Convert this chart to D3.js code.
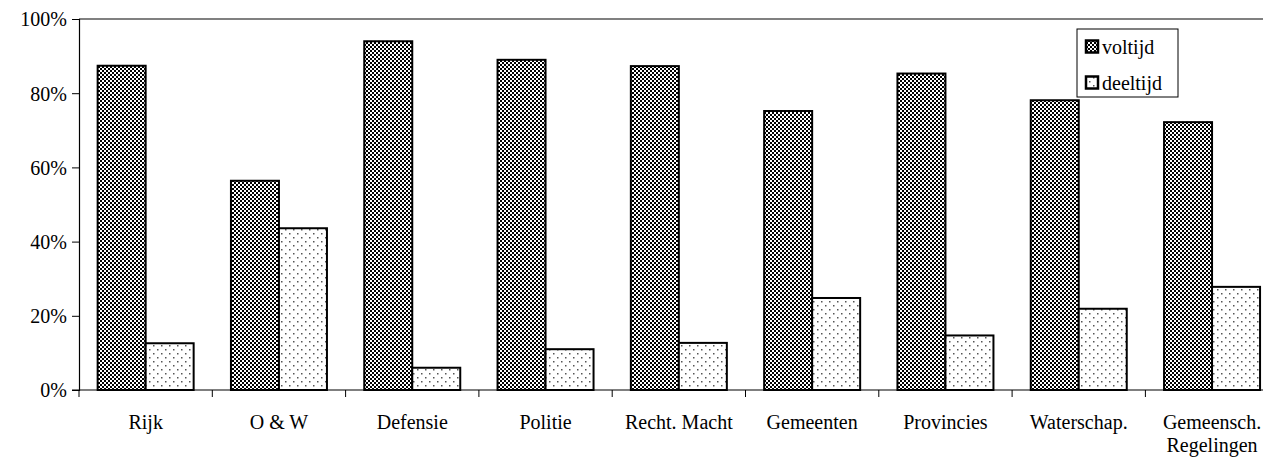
<!DOCTYPE html>
<html>
<head>
<meta charset="utf-8">
<script src="https://cdn.jsdelivr.net/npm/d3@7"></script>
<style>
  html, body { margin: 0; padding: 0; background: #fff; overflow: hidden; }
  svg { display: block; }
</style>
</head>
<body>
<svg id="chart" width="1263" height="462"></svg>
<script>
const categories = ["Rijk", "O & W", "Defensie", "Politie", "Recht. Macht", "Gemeenten", "Provincies", "Waterschap.", "Gemeensch.\nRegelingen"];
const seriesNames = ["voltijd", "deeltijd"];
const voltijd = [87.4, 56.4, 94.0, 89.0, 87.3, 75.2, 85.3, 78.1, 72.2];
const deeltijd = [12.6, 43.6, 6.0, 11.0, 12.7, 24.8, 14.7, 21.9, 27.8];
const yTicks = [0, 20, 40, 60, 80, 100];

(function () {
const FONT = "'Liberation Serif', monospace";
const FS = 20;
const svg = d3.select("#chart");
const mLeft = 79, mTop = 19, mBottom = 390;
const catW = 133.3;
const mRight = mLeft + catW * categories.length;

const defs = svg.append("defs");
const chk = defs.append("pattern").attr("id", "pChk").attr("patternUnits", "userSpaceOnUse")
  .attr("width", 4).attr("height", 4);
chk.append("rect").attr("width", 4).attr("height", 4).attr("fill", "#fff");
chk.append("rect").attr("x", 0).attr("y", 0).attr("width", 2).attr("height", 2).attr("fill", "#000");
chk.append("rect").attr("x", 2).attr("y", 2).attr("width", 2).attr("height", 2).attr("fill", "#000");

const dot = defs.append("pattern").attr("id", "pDot").attr("patternUnits", "userSpaceOnUse")
  .attr("width", 8).attr("height", 8);
dot.append("rect").attr("width", 8).attr("height", 8).attr("fill", "#fff");
dot.append("rect").attr("x", 1).attr("y", 1).attr("width", 1.5).attr("height", 1.5).attr("fill", "#555");
dot.append("rect").attr("x", 5).attr("y", 5).attr("width", 1.5).attr("height", 1.5).attr("fill", "#555");

const fills = ["url(#pChk)", "url(#pDot)"];

const x = d3.scaleBand().domain(categories).range([mLeft, mRight]).paddingInner(0).paddingOuter(0);
const x1 = d3.scaleBand().domain(seriesNames).range([0, 96]);
const y = d3.scaleLinear().domain([0, 100]).range([mBottom, mTop]);

// top border
svg.append("line").attr("x1", mLeft).attr("x2", mRight).attr("y1", y(100)).attr("y2", y(100))
  .attr("stroke", "#808080").attr("stroke-width", 2);

const data = categories.map((c, i) => ({ c, vals: [voltijd[i], deeltijd[i]] }));

const g = svg.append("g");
data.forEach(d => {
  const x0 = x(d.c) + (x.bandwidth() - 96) / 2;
  d.vals.forEach((v, j) => {
    g.append("rect")
      .attr("x", x0 + x1(seriesNames[j]))
      .attr("y", y(v))
      .attr("width", x1.bandwidth())
      .attr("height", y(0) - y(v))
      .attr("fill", fills[j])
      .attr("stroke", "#000")
      .attr("stroke-width", 2);
  });
});

// Y axis
const yAxis = d3.axisLeft(y).tickValues(yTicks).tickFormat(d => d + "%").tickSize(7).tickPadding(5);
const ya = svg.append("g").attr("transform", `translate(${mLeft},0)`).call(yAxis)
  .attr("font-family", FONT).attr("font-size", FS);
ya.select(".domain").attr("stroke", "#000").attr("stroke-width", 1.2);
ya.selectAll(".tick line").attr("stroke", "#000");
ya.selectAll("text").attr("fill", "#000").attr("dy", "0.34em");

// X axis baseline and ticks at category boundaries
const xa = svg.append("g").attr("font-family", FONT).attr("font-size", FS);
xa.append("line").attr("x1", mLeft - 7).attr("x2", mRight).attr("y1", mBottom).attr("y2", mBottom)
  .attr("stroke", "#000").attr("stroke-width", 1.2);
const bounds = categories.map(c => x(c)).concat([mRight]);
xa.selectAll("line.tk").data(bounds).enter().append("line").attr("class", "tk")
  .attr("x1", d => d).attr("x2", d => d).attr("y1", mBottom).attr("y2", mBottom + 7)
  .attr("stroke", "#000").attr("stroke-width", 1);
categories.forEach(c => {
  const lines = c.split("\n");
  const t = xa.append("text").attr("text-anchor", "middle").attr("fill", "#000");
  lines.forEach((ln, k) => {
    t.append("tspan").attr("x", x(c) + x.bandwidth() / 2).attr("y", 429 + k * 23).text(ln);
  });
});

// Legend
const lg = svg.append("g").attr("font-family", FONT).attr("font-size", FS);
lg.append("rect").attr("x", 1077).attr("y", 29).attr("width", 101).attr("height", 68)
  .attr("fill", "#fff").attr("stroke", "#000").attr("stroke-width", 1);
seriesNames.forEach((s, j) => {
  const cy = 46.5 + j * 36;
  lg.append("rect").attr("x", 1086).attr("y", cy - 6).attr("width", 12).attr("height", 12)
    .attr("fill", fills[j]).attr("stroke", "#000").attr("stroke-width", 2.5);
  lg.append("text").attr("x", 1102).attr("y", cy + 7).attr("fill", "#000").text(s);
});
})();
</script>
</body>
</html>
